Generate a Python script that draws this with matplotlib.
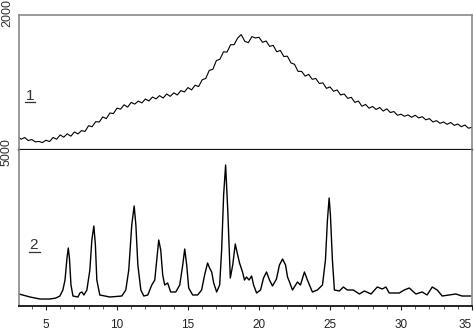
import numpy as np
import matplotlib
matplotlib.use("Agg")
import matplotlib.pyplot as plt
from matplotlib.lines import Line2D
from matplotlib.ticker import MultipleLocator

plt.rcParams['font.family'] = ['Liberation Sans', 'DejaVu Sans']

# Sample 1 (amorphous) - 2theta grid and intensity
theta1 = np.arange(3.0, 35.01, 0.25)
intensity1 = [
    195, 160, 185, 140, 155, 120, 127, 110, 145, 125, 185, 160, 223, 190, 240, 205,
    267, 238, 287, 275, 360, 345, 420, 415, 490, 465, 548, 540, 620, 605, 670, 635,
    705, 680, 725, 698, 755, 727, 785, 758, 805, 770, 830, 795, 847, 815, 880, 860,
    925, 890, 960, 940, 1040, 1060, 1180, 1195, 1325, 1345, 1455, 1450, 1560, 1560,
    1660, 1710, 1610, 1590, 1680, 1660, 1670, 1595, 1615, 1535, 1550, 1455, 1475, 1385,
    1390, 1290, 1270, 1165, 1165, 1095, 1120, 1047, 1060, 985, 995, 913, 935, 870,
    890, 815, 830, 765, 780, 705, 725, 648, 675, 620, 645, 600, 630, 577, 610, 555,
    570, 515, 530, 500, 520, 485, 515, 475, 493, 447, 465, 415, 435, 395, 415, 380,
    408, 365, 385, 345, 370, 323, 336,
]

# Sample 2 (crystalline)
theta2 = [
    3.10, 3.88, 4.58, 5.28, 5.70, 5.98, 6.19, 6.34, 6.48, 6.57, 6.65, 6.76, 6.90,
    7.25, 7.39, 7.53, 7.67, 7.88, 8.09, 8.23, 8.37, 8.48, 8.58, 8.79, 9.50, 10.34,
    10.62, 10.83, 11.04, 11.21, 11.33, 11.47, 11.68, 11.89, 12.17, 12.45, 12.66,
    12.80, 12.94, 13.08, 13.22, 13.36, 13.57, 13.78, 14.14, 14.42, 14.63, 14.77,
    14.91, 15.05, 15.33, 15.68, 15.96, 16.17, 16.38, 16.52, 16.67, 16.81, 17.02,
    17.23, 17.37, 17.51, 17.65, 17.80, 17.98, 18.15, 18.33, 18.50, 18.63, 18.84,
    18.98, 19.12, 19.30, 19.48, 19.62, 19.83, 20.11, 20.32, 20.53, 20.74, 20.95,
    21.23, 21.44, 21.66, 21.87, 22.01, 22.15, 22.36, 22.71, 22.92, 23.20, 23.41,
    23.76, 24.11, 24.47, 24.68, 24.82, 24.94, 25.03, 25.17, 25.31, 25.66, 25.94,
    26.22, 26.64, 27.07, 27.42, 27.89, 28.33, 28.68, 28.94, 29.17, 29.88, 30.23,
    30.58, 31.05, 31.49, 31.84, 32.20, 32.55, 32.90, 33.86, 34.30, 34.92,
]
intensity2 = [
    385, 288, 224, 224, 256, 320, 513, 833, 1538, 1859, 1538, 673, 320,
    288, 417, 449, 353, 513, 1154, 2115, 2564, 1955, 833, 353, 288, 320,
    513, 1154, 2596, 3205, 2596, 1314, 513, 320, 353, 673, 833,
    1474, 2115, 1795, 994, 673, 737, 449, 449, 673, 1314, 1827,
    1314, 577, 353, 353, 513, 994, 1378, 1218, 1090, 737, 449,
    673, 1795, 3558, 4519, 3077, 897, 1314, 1987, 1635, 1378, 1090,
    833, 929, 833, 962, 673, 417, 513, 897, 1090, 833, 641,
    865, 1314, 1506, 1314, 929, 769, 513, 769, 673, 1090, 833,
    449, 513, 673, 1474, 2756, 3461, 2917, 1474, 513, 481, 609,
    513, 513, 385, 481, 385, 609, 545, 609, 417, 417, 513,
    577, 385, 449, 353, 609, 513, 320, 385, 320, 320,
]

x_ticks = [5, 10, 15, 20, 25, 30, 35]
y_top_label = "2000"
y_bottom_label = "5000"
panel_labels = ["1", "2"]

W, H = 474, 329
fig = plt.figure(figsize=(W / 100, H / 100), dpi=100)

def fx(px):
    return px / W

def fy(py):
    return 1 - py / H

left, right = 19, 472
ax1 = fig.add_axes([fx(left), fy(150), (right - left) / W, (150 - 15) / H])
ax2 = fig.add_axes([fx(left), fy(306), (right - left) / W, (306 - 150) / H])

xlim = (3.1, 35.0)
gray = '#8a8a8a'

ax1.plot(theta1, intensity1, color='black', lw=0.8)
ax1.set_xlim(*xlim)
ax1.set_ylim(0, 2000)
ax1.set_xticks([])
ax1.set_yticks([])
for s in ['top', 'left', 'right']:
    ax1.spines[s].set_color(gray)
    ax1.spines[s].set_linewidth(1.2)
ax1.spines['bottom'].set_color('#111111')
ax1.spines['bottom'].set_linewidth(1.6)

ax2.plot(theta2, intensity2, color='black', lw=1.0)
ax2.set_xlim(*xlim)
ax2.set_ylim(0, 5000)
ax2.set_yticks([])
ax2.set_xticks(x_ticks)
ax2.xaxis.set_minor_locator(MultipleLocator(1))
ax2.tick_params(axis='x', which='major', direction='out', length=3, width=0.8,
                labelsize=8.5, pad=6, colors='#222222')
ax2.tick_params(axis='x', which='minor', direction='out', length=2, width=0.6,
                colors='#444444')
labels = ax2.get_xticklabels()
labels[-1].set_horizontalalignment('right')
ax2.spines['top'].set_visible(False)
for s in ['left', 'right']:
    ax2.spines[s].set_color(gray)
    ax2.spines[s].set_linewidth(1.2)
ax2.spines['bottom'].set_color('#111111')
ax2.spines['bottom'].set_linewidth(1.3)

fig.text(fx(7), fy(13), y_top_label, rotation=90, ha='center', va='center',
         fontsize=9, color='#333333')
fig.text(fx(7), fy(152), y_bottom_label, rotation=90, ha='center', va='center',
         fontsize=9, color='#333333')

fig.text(fx(30), fy(100), panel_labels[0], ha='center', va='baseline',
         fontsize=11, color='#333333')
fig.add_artist(Line2D([fx(25), fx(35)], [fy(102.5), fy(102.5)], color='#333333', lw=0.9))
fig.text(fx(34), fy(249), panel_labels[1], ha='center', va='baseline',
         fontsize=11, color='#333333')
fig.add_artist(Line2D([fx(29), fx(40)], [fy(252), fy(252)], color='#333333', lw=0.9))

fig.savefig('out.png', dpi=100)
